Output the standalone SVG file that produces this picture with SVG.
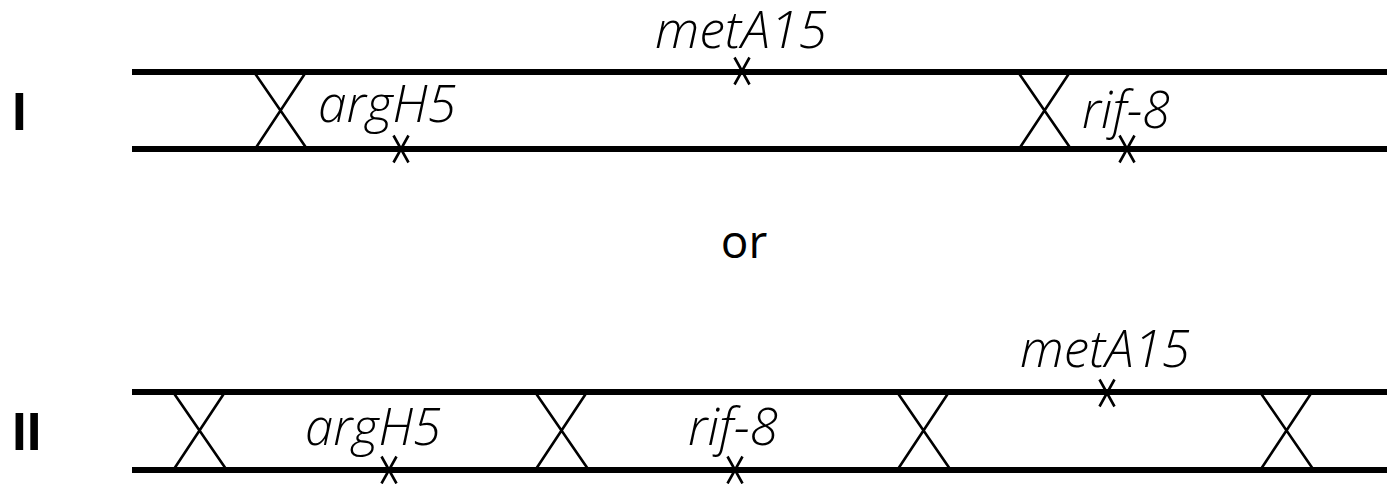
<svg xmlns="http://www.w3.org/2000/svg" width="1387" height="484" viewBox="0 0 1387 484">
<style>
.chr{stroke:#000;stroke-width:6;fill:none}
.xo{stroke:#000;stroke-width:2.6;fill:none}
.mk{stroke:#000;stroke-width:2.6;fill:none}
.lbl{font-family:"Open Sans","Liberation Sans",sans-serif;font-style:italic;font-weight:300;font-size:51px;fill:#000}
.num{font-family:"Liberation Sans",Arial,sans-serif;font-weight:bold;font-size:53px;fill:#000}
.or{font-family:"Open Sans","Liberation Sans",sans-serif;font-size:46px;fill:#000}
</style>
<defs>
<path id="cross" d="M-26,0 L27,77 M26,0 L-25,77" class="xo"/>
<path id="mark" d="M-7.5,-13.5 L7.5,13.5 M7.5,-13.5 L-7.5,13.5" class="mk"/>
</defs>
<rect width="1387" height="484" fill="#fff"/>
<g id="chromosome-I">
<line class="chr" x1="132" y1="72" x2="1387" y2="72"/>
<line class="chr" x1="132" y1="149" x2="1387" y2="149"/>
<text class="num" x="12" y="130">I</text>
</g>
<g id="chromosome-II">
<line class="chr" x1="132" y1="392" x2="1387" y2="392"/>
<line class="chr" x1="132" y1="470" x2="1387" y2="470"/>
<text class="num" x="12" y="450">II</text>
</g>
<g id="connectors">
<use href="#cross" x="280" y="72"/>
<use href="#cross" x="1044" y="72"/>
<use href="#cross" x="199" y="392"/>
<use href="#cross" x="561" y="392"/>
<use href="#cross" x="923" y="392"/>
<use href="#cross" x="1286" y="392"/>
</g>
<g id="marker-I-metA15">
<use href="#mark" x="742" y="71"/>
<text class="lbl" x="655" y="48" textLength="172" lengthAdjust="spacingAndGlyphs">metA15</text>
</g>
<g id="marker-I-argH5">
<use href="#mark" x="401" y="149"/>
<text class="lbl" x="318" y="122" textLength="138" lengthAdjust="spacingAndGlyphs">argH5</text>
</g>
<g id="marker-I-rif8">
<use href="#mark" x="1127" y="149"/>
<text class="lbl" x="1082" y="128" textLength="88" lengthAdjust="spacingAndGlyphs">rif-8</text>
</g>
<g id="or-label">
<text class="or" x="744" y="258" text-anchor="middle">or</text>
</g>
<g id="marker-II-argH5">
<use href="#mark" x="389" y="470"/>
<text class="lbl" x="305" y="445" textLength="136" lengthAdjust="spacingAndGlyphs">argH5</text>
</g>
<g id="marker-II-rif8">
<use href="#mark" x="735" y="470"/>
<text class="lbl" x="688" y="445" textLength="90" lengthAdjust="spacingAndGlyphs">rif-8</text>
</g>
<g id="marker-II-metA15">
<use href="#mark" x="1107" y="393"/>
<text class="lbl" x="1020" y="367" textLength="170" lengthAdjust="spacingAndGlyphs">metA15</text>
</g>
</svg>
